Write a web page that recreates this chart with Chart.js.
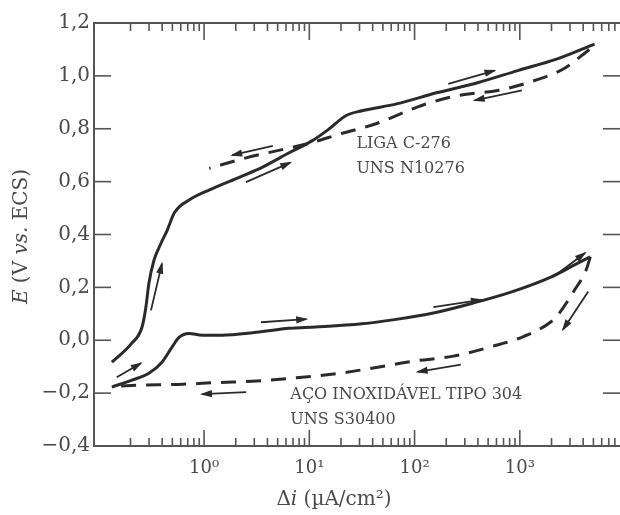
<!DOCTYPE html>
<html><head><meta charset="utf-8">
<script src="https://cdn.jsdelivr.net/npm/chart.js@4.4.0/dist/chart.umd.min.js"></script>
<style>html,body{margin:0;padding:0;background:#fff;overflow:hidden}canvas{display:block}</style>
</head><body>
<canvas id="c" width="620" height="515"></canvas>
<script>
// ---- data (i in µA/cm², E in V vs. ECS) ----
const c276FwdI = [0.133,0.206,0.257,0.280,0.299,0.334,0.389,0.445,0.524,0.74,1.14,2.27,3.6,6.5,10.7,15.5,22.4,31.6,67.6,162,404,955,2270,5130];
const c276FwdE = [-0.083,-0.011,0.049,0.125,0.215,0.302,0.366,0.415,0.483,0.533,0.57,0.62,0.655,0.71,0.755,0.80,0.85,0.868,0.894,0.936,0.975,1.02,1.064,1.12];
const c276RevI = [4571,2692,1230,617,263,129,95.5,43.7,19.5,10,5.37,2.51,1.12];
const c276RevE = [1.10,1.03,0.976,0.945,0.926,0.894,0.875,0.82,0.78,0.745,0.72,0.69,0.65];
const ss304FwdI = [0.133,0.206,0.299,0.398,0.496,0.578,0.719,0.957,1.48,3.13,6.45,11.5,31.6,64.6,151,355,851,1995,3311,4677];
const ss304FwdE = [-0.177,-0.151,-0.125,-0.083,-0.026,0.011,0.026,0.019,0.019,0.03,0.045,0.05,0.062,0.078,0.103,0.14,0.184,0.24,0.285,0.316];
const ss304RevI = [4677,4266,3311,2344,1995,1096,550,234,98,41.7,20.9,7.5,3.16,1.35,0.575,0.245,0.158];
const ss304RevE = [0.316,0.266,0.19,0.10,0.071,0.015,-0.023,-0.06,-0.079,-0.104,-0.123,-0.142,-0.154,-0.16,-0.167,-0.17,-0.173];

// scan-direction arrows (head at the "to" end)
const arrowFromI = [2.5,4.5,209,1047,0.313,0.148,2.51,3.47,151,275,2240,4467];
const arrowFromE = [0.598,0.735,0.97,0.945,0.113,-0.14,-0.196,0.068,0.125,-0.092,0.25,0.184];
const arrowToI   = [6.6,1.85,575,372,0.398,0.251,0.955,9.33,427,107,4169,2570];
const arrowToE   = [0.672,0.70,1.02,0.9075,0.29,-0.087,-0.204,0.080,0.153,-0.12,0.33,0.04];

// ticks
const xMin = 0.09, xMax = 8950;
const xMajorTicks = [1,10,100,1000];
const xTickLabels = ['10⁰','10¹','10²','10³'];
const xMinorTicks = [0.2,0.3,0.4,0.5,0.6,0.7,0.8,0.9,2,3,4,5,6,7,8,9,20,30,40,50,60,70,80,90,200,300,400,500,600,700,800,900,2000,3000,4000,5000,6000,7000,8000];
const yTickValues = [-0.4,-0.2,0,0.2,0.4,0.6,0.8,1.0,1.2];
const yTickLabels = ['−0,4','−0,2','0,0','0,2','0,4','0,6','0,8','1,0','1,2'];

// curve labels
const noteText = ['LIGA C-276','UNS N10276','AÇO INOXIDÁVEL TIPO 304','UNS S30400'];
const noteI = [28,28,6.6,6.6];
const noteE = [0.742,0.648,-0.208,-0.302];

// ---- styling ----
const ink = '#2a2a2a';
const axisInk = '#555';
const textInk = '#4a4a4a';
const serif = '"DejaVu Serif", serif';

const pts = (I,E) => I.map((v,k)=>({x:v,y:E[k]}));

const curveStyle = {borderColor:ink, borderWidth:3, pointRadius:0, fill:false, cubicInterpolationMode:'monotone'};
const datasets = [
  Object.assign({label:'C-276 ida', data:pts(c276FwdI,c276FwdE)}, curveStyle),
  Object.assign({label:'C-276 volta', data:pts(c276RevI,c276RevE), borderDash:[15,10]}, curveStyle),
  Object.assign({label:'304 ida', data:pts(ss304FwdI,ss304FwdE)}, curveStyle),
  Object.assign({label:'304 volta', data:pts(ss304RevI,ss304RevE), borderDash:[15,10]}, curveStyle)
];
arrowFromI.forEach((v,k)=>{
  datasets.push({label:'arrow'+k, isArrow:true, data:[{x:v,y:arrowFromE[k]},{x:arrowToI[k],y:arrowToE[k]}],
    borderColor:ink, borderWidth:1.8, pointRadius:0, fill:false, tension:0});
});

function mixedText(ctx, parts, cx, cy, size){
  let total = 0;
  parts.forEach(p=>{ctx.font = p[1]+' '+size+'px '+serif; total += ctx.measureText(p[0]).width;});
  let xx = cx - total/2;
  parts.forEach(p=>{ctx.font = p[1]+' '+size+'px '+serif; ctx.fillText(p[0], xx, cy); xx += ctx.measureText(p[0]).width;});
}

const decor = {
  id:'decor',
  afterDatasetsDraw(chart){
    const ctx = chart.ctx;
    ctx.save();
    ctx.fillStyle = ink;
    chart.data.datasets.forEach((ds,k)=>{
      if(!ds.isArrow) return;
      const m = chart.getDatasetMeta(k).data;
      const p0 = m[0], p1 = m[1];
      const ang = Math.atan2(p1.y-p0.y, p1.x-p0.x);
      const L = 10, W = 3.6;
      ctx.beginPath();
      ctx.moveTo(p1.x + Math.cos(ang)*2, p1.y + Math.sin(ang)*2);
      ctx.lineTo(p1.x - Math.cos(ang)*L - Math.sin(ang)*W, p1.y - Math.sin(ang)*L + Math.cos(ang)*W);
      ctx.lineTo(p1.x - Math.cos(ang)*L + Math.sin(ang)*W, p1.y - Math.sin(ang)*L - Math.cos(ang)*W);
      ctx.closePath();
      ctx.fill();
    });
    ctx.restore();
  },
  afterDraw(chart){
    const {ctx, chartArea:a, scales:{x,y}} = chart;
    ctx.save();
    ctx.strokeStyle = axisInk; ctx.lineWidth = 1.6;
    const seg = (x1,y1,x2,y2)=>{ctx.beginPath();ctx.moveTo(x1,y1);ctx.lineTo(x2,y2);ctx.stroke();};
    yTickValues.forEach(v=>{const py=y.getPixelForValue(v); seg(a.left,py,a.left+17,py); seg(a.right-17,py,a.right,py);});
    xMajorTicks.forEach(v=>{const px=x.getPixelForValue(v); seg(px,a.bottom,px,a.bottom-16); seg(px,a.top,px,a.top+17);});
    xMinorTicks.forEach(v=>{const px=x.getPixelForValue(v); seg(px,a.bottom,px,a.bottom-8); seg(px,a.top,px,a.top+8);});
    // curve labels
    ctx.fillStyle = textInk;
    ctx.font = '16px '+serif;
    ctx.textBaseline = 'middle'; ctx.textAlign = 'left';
    noteText.forEach((t,k)=>{ctx.fillText(t, x.getPixelForValue(noteI[k]), y.getPixelForValue(noteE[k]));});
    // axis titles
    ctx.textAlign = 'left';
    mixedText(ctx, [['Δ','normal'],['i','italic'],[' (µA/cm²)','normal']], 334, 500, 20);
    ctx.save();
    ctx.translate(22, (a.top+a.bottom)/2+2);
    ctx.rotate(-Math.PI/2);
    mixedText(ctx, [['E','italic'],[' (V ','normal'],['vs.','italic'],[' ECS)','normal']], 0, 0, 20);
    ctx.restore();
    ctx.restore();
  }
};

new Chart(document.getElementById('c'), {
  type:'line',
  data:{datasets},
  plugins:[decor],
  options:{
    responsive:false, animation:false, devicePixelRatio:1,
    layout:{padding:{left:0,right:0,top:0,bottom:0}},
    plugins:{legend:{display:false}, tooltip:{enabled:false}},
    scales:{
      x:{type:'logarithmic', position:'bottom', min:xMin, max:xMax,
        afterBuildTicks:s=>{s.ticks = xMajorTicks.map(v=>({value:v}));},
        afterFit:s=>{s.height = 515-446;},
        ticks:{autoSkip:false, maxRotation:0, padding:12, color:textInk, font:{family:serif,size:18},
          callback:(v,k)=>xTickLabels[k]},
        grid:{display:true, drawOnChartArea:false, drawTicks:false},
        border:{display:true, color:axisInk, width:2}},
      x2:{type:'logarithmic', position:'top', min:xMin, max:xMax,
        afterFit:s=>{s.height = 23;},
        ticks:{display:false},
        grid:{display:true, drawOnChartArea:false, drawTicks:false},
        border:{display:true, color:axisInk, width:2}},
      y:{type:'linear', position:'left', min:-0.4, max:1.2,
        afterBuildTicks:s=>{s.ticks = yTickValues.map(v=>({value:v}));},
        afterFit:s=>{s.width = 94;},
        ticks:{padding:4, color:textInk, font:{family:serif,size:20}, callback:(v,k)=>yTickLabels[k]},
        grid:{display:true, drawOnChartArea:false, drawTicks:false},
        border:{display:true, color:axisInk, width:2}}
    }
  }
});
</script>
</body></html>
